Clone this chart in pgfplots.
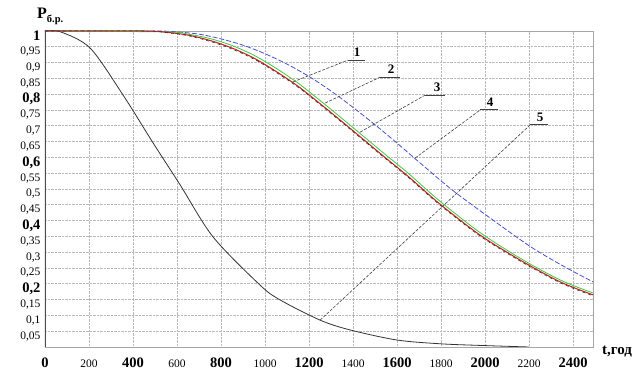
\documentclass[border=0pt]{standalone}
\usepackage{fontspec}
\setmainfont{Liberation Serif}
\usepackage{pgfplots}
\pgfplotsset{compat=1.18}
\newcommand{\rl}[1]{{\fontsize{11.5}{12}\selectfont #1}}
\newcommand{\bl}[1]{{\fontsize{14.5}{15}\selectfont\bfseries #1}}
\definecolor{cblue}{RGB}{70,80,215}
\definecolor{cgreen}{RGB}{60,200,60}
\definecolor{cred}{RGB}{200,30,30}
\begin{document}
\begin{tikzpicture}
\begin{axis}[
  scale only axis, width=548pt, height=316pt,
  xmin=0, xmax=2490, ymin=0, ymax=1,
  xtick={0,200,400,600,800,1000,1200,1400,1600,1800,2000,2200,2400},
  xticklabels={\bl{0},\rl{200},\bl{400},\rl{600},\bl{800},\rl{1000},\bl{1200},\rl{1400},\bl{1600},\rl{1800},\bl{2000},\rl{2200},\bl{2400}},
  ytick={0.05,0.1,0.15,0.2,0.25,0.3,0.35,0.4,0.45,0.5,0.55,0.6,0.65,0.7,0.75,0.8,0.85,0.9,0.95,1},
  yticklabels={\rl{0,05},\rl{0,1},\rl{0,15},\bl{0,2},\rl{0,25},\rl{0,3},\rl{0,35},\bl{0,4},\rl{0,45},\rl{0,5},\rl{0,55},\bl{0,6},\rl{0,65},\rl{0,7},\rl{0,75},\bl{0,8},\rl{0,85},\rl{0,9},\rl{0,95},\bl{1}},
  grid=major,
  major grid style={gray!55, densely dotted, line width=0.6pt},
  axis line style={gray!70, line width=0.8pt},
  major tick length=0pt,
  /pgf/number format/assume math mode=true,
  yticklabel style={anchor=east, yshift=-5pt, xshift=-1pt},
  xticklabel style={anchor=base, yshift=-21pt},
]
% curve 5
\addplot[black!80, line width=0.8pt, smooth] coordinates {
(0,1) (68,0.998) (205,0.946) (355,0.797) (491,0.646) (614,0.513) (764,0.348)
(977,0.196) (1068,0.149) (1250,0.085) (1386,0.054) (1600,0.022) (1800,0.010)
(1977,0.005) (2200,0.0)};
% blue
\addplot[cblue, line width=0.8pt, dash pattern=on 5pt off 2pt, smooth] coordinates {
(0,1) (500,1) (600,0.997) (700,0.990) (800,0.975) (900,0.955) (1000,0.928)
(1100,0.895) (1200,0.856) (1300,0.810) (1400,0.758) (1500,0.703) (1600,0.645)
(1700,0.585) (1850,0.497) (2023,0.408) (2205,0.318) (2350,0.258) (2490,0.206)};
% green
\addplot[cgreen, line width=0.8pt, smooth] coordinates {
(0,1) (550,0.997) (650,0.990) (750,0.976) (850,0.954) (950,0.923) (1050,0.882)
(1150,0.835) (1250,0.780) (1350,0.723) (1450,0.665) (1550,0.607) (1650,0.550)
(1795,0.461) (1977,0.362) (2159,0.281) (2341,0.212) (2490,0.171)};
% red
\addplot[cred, line width=1pt, smooth] coordinates {
(0,1) (450,1) (550,0.996) (650,0.987) (750,0.970) (850,0.946) (950,0.914) (1050,0.872)
(1150,0.825) (1250,0.770) (1350,0.713) (1450,0.655) (1550,0.597) (1650,0.540)
(1795,0.452) (1977,0.354) (2159,0.275) (2341,0.206) (2490,0.165)};
% black over red
\addplot[black!80, line width=0.6pt, dash pattern=on 3pt off 3pt, smooth] coordinates {
(0,1) (450,1) (550,0.995) (650,0.985) (750,0.967) (850,0.943) (950,0.911) (1050,0.869)
(1150,0.822) (1250,0.767) (1350,0.710) (1450,0.652) (1550,0.594) (1650,0.537)
(1795,0.449) (1977,0.351) (2159,0.272) (2341,0.203) (2490,0.162)};
% leaders
\draw[gray!50!black, line width=0.6pt, dash pattern=on 3pt off 1.5pt] (axis cs:1127,0.839) -- (axis cs:1377,0.908);
\draw[gray!50!black, line width=1pt] (axis cs:1377,0.908) -- (axis cs:1455,0.908);
\node[font=\fontsize{13}{13}\selectfont\bfseries, anchor=base] at (axis cs:1418,0.918) {1};
\draw[gray!50!black, line width=0.6pt, dash pattern=on 3pt off 1.5pt] (axis cs:1273,0.772) -- (axis cs:1523,0.854);
\draw[gray!50!black, line width=1pt] (axis cs:1523,0.854) -- (axis cs:1614,0.854);
\node[font=\fontsize{13}{13}\selectfont\bfseries, anchor=base] at (axis cs:1573,0.864) {2};
\draw[gray!50!black, line width=0.6pt, dash pattern=on 3pt off 1.5pt] (axis cs:1432,0.680) -- (axis cs:1727,0.797);
\draw[gray!50!black, line width=1pt] (axis cs:1727,0.797) -- (axis cs:1818,0.797);
\node[font=\fontsize{13}{13}\selectfont\bfseries, anchor=base] at (axis cs:1782,0.807) {3};
\draw[gray!50!black, line width=0.6pt, dash pattern=on 3pt off 1.5pt] (axis cs:1682,0.598) -- (axis cs:1977,0.750);
\draw[gray!50!black, line width=1pt] (axis cs:1977,0.750) -- (axis cs:2059,0.750);
\node[font=\fontsize{13}{13}\selectfont\bfseries, anchor=base] at (axis cs:2023,0.760) {4};
\draw[gray!50!black, line width=0.6pt, dash pattern=on 3pt off 1.5pt] (axis cs:1250,0.085) -- (axis cs:2205,0.703);
\draw[gray!50!black, line width=1pt] (axis cs:2205,0.703) -- (axis cs:2286,0.703);
\node[font=\fontsize{13}{13}\selectfont\bfseries, anchor=base] at (axis cs:2250,0.713) {5};
% thick left axis line
\draw[gray!60!black, line width=2pt] (rel axis cs:0,0) -- (rel axis cs:0,1);
\coordinate (sw) at (rel axis cs:0,0);
\coordinate (ne) at (rel axis cs:1,1);
\end{axis}
\node[anchor=base west, inner sep=0pt] at ([xshift=-8pt,yshift=12pt]sw |- ne) {{\fontsize{16}{16}\selectfont\bfseries P}\raisebox{-4pt}{\fontsize{10.5}{11}\selectfont\bfseries б.р.}};
\node[anchor=base west, inner sep=0pt] at ([xshift=9pt,yshift=-8pt]ne |- sw) {\fontsize{15}{15}\selectfont\bfseries t,год};
\path ([xshift=-45pt,yshift=-25pt]sw) rectangle ([xshift=50pt,yshift=31pt]ne);
\end{tikzpicture}
\end{document}
